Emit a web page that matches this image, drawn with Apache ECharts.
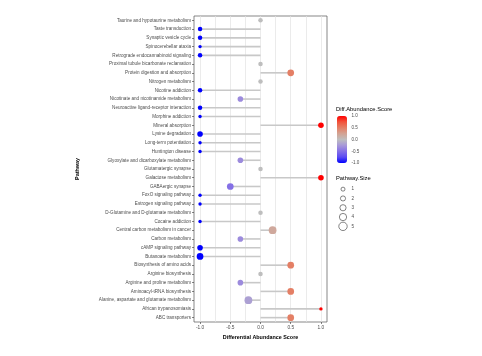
<!DOCTYPE html>
<html>
<head>
<meta charset="utf-8">
<script src="https://cdn.jsdelivr.net/npm/echarts@6/dist/echarts.min.js"></script>
<style>html,body{margin:0;padding:0;background:#fff;}#c{width:482px;height:356px;}</style>
</head>
<body>
<div id="c"></div>
<script>
const categories = [
  "Taurine and hypotaurine metabolism",
  "Taste transduction",
  "Synaptic vesicle cycle",
  "Spinocerebellar ataxia",
  "Retrograde endocannabinoid signaling",
  "Proximal tubule bicarbonate reclamation",
  "Protein digestion and absorption",
  "Nitrogen metabolism",
  "Nicotine addiction",
  "Nicotinate and nicotinamide metabolism",
  "Neuroactive ligand-receptor interaction",
  "Morphine addiction",
  "Mineral absorption",
  "Lysine degradation",
  "Long-term potentiation",
  "Huntington disease",
  "Glyoxylate and dicarboxylate metabolism",
  "Glutamatergic synapse",
  "Galactose metabolism",
  "GABAergic synapse",
  "FoxO signaling pathway",
  "Estrogen signaling pathway",
  "D-Glutamine and D-glutamate metabolism",
  "Cocaine addiction",
  "Central carbon metabolism in cancer",
  "Carbon metabolism",
  "cAMP signaling pathway",
  "Butanoate metabolism",
  "Biosynthesis of amino acids",
  "Arginine biosynthesis",
  "Arginine and proline metabolism",
  "Aminoacyl-tRNA biosynthesis",
  "Alanine, aspartate and glutamate metabolism",
  "African trypanosomiasis",
  "ABC transporters"
];
const scores = [0, -1, -1, -1, -1, 0, 0.5, 0, -1, -0.333, -1, -1, 1, -1, -1, -1, -0.333, 0, 1, -0.5,
  -1, -1, 0, -1, 0.2, -0.333, -1, -1, 0.5, 0, -0.333, 0.5, -0.2, 1, 0.5];
const sizes = [2, 2, 2, 1, 2, 2, 4, 2, 2, 3, 2, 1, 3, 3, 1, 1, 3, 2, 3, 4,
  1, 1, 2, 1, 5, 3, 3, 4, 4, 2, 3, 4, 5, 1, 4];
const xTicks = [-1, -0.5, 0, 0.5, 1];
const gridTicks = [-1, -0.75, -0.5, -0.25, 0, 0.25, 0.5, 0.75, 1];
const sizeLevels = ["1", "2", "3", "4", "5"];
const colorStops = ["#0000FF", "#5B4BF2", "#8570E6", "#A798D8", "#BEBEBE", "#D3A393", "#E47F65", "#F2523A", "#FF0000"];

function symSize(s) { return 2.3 + 1.1 * s; }

const chart = echarts.init(document.getElementById('c'), null, {renderer: 'canvas'});
const labelColor = '#4D4D4D';
const font = 'Liberation Sans, Arial, sans-serif';

chart.setOption({
  backgroundColor: '#fff',
  animation: false,
  textStyle: {fontFamily: font},
  title: [
    {text: 'Diff.Abundance.Score', left: 336, top: 106, padding: 0,
     textStyle: {fontSize: 5.8, fontWeight: 'normal', color: '#000', fontFamily: font}},
    {text: 'Pathway.Size', left: 336, top: 175, padding: 0,
     textStyle: {fontSize: 5.8, fontWeight: 'normal', color: '#000', fontFamily: font}}
  ],
  grid: [
    {left: 194, right: 155, top: 16, bottom: 34, show: true, borderColor: '#555', borderWidth: 0.7, backgroundColor: '#fff'},
    {left: 345, width: 2, top: 116, height: 47},
    {left: 339, width: 8, top: 184.5, height: 46.5}
  ],
  xAxis: [
    {type: 'value', gridIndex: 0, min: -1.1, max: 1.1,
     axisLine: {show: false, onZero: false}, splitLine: {show: false},
     axisTick: {show: true, customValues: xTicks, length: 2, lineStyle: {color: '#333', width: 0.6}},
     axisLabel: {customValues: xTicks, formatter: v => v.toFixed(1), fontSize: 4.8, color: labelColor, margin: 3, fontFamily: font},
     name: 'Differential Abundance Score', nameLocation: 'middle', nameGap: 11,
     nameTextStyle: {fontWeight: 'bold', fontSize: 5.4, color: '#000', fontFamily: font}},
    {type: 'value', gridIndex: 1, show: false, min: 0, max: 1},
    {type: 'value', gridIndex: 2, show: false, min: -1, max: 1}
  ],
  yAxis: [
    {type: 'category', gridIndex: 0, data: categories, inverse: true,
     axisLine: {show: false, onZero: false},
     axisTick: {show: true, alignWithLabel: true, length: 2, lineStyle: {color: '#333', width: 0.6}},
     axisLabel: {fontSize: 4.6, color: labelColor, margin: 3, fontFamily: font},
     name: 'Pathway', nameLocation: 'middle', nameGap: 114, nameRotate: 90,
     nameTextStyle: {fontWeight: 'bold', fontSize: 5.4, color: '#000', fontFamily: font}},
    {type: 'value', gridIndex: 1, min: -1, max: 1, interval: 0.5, position: 'right',
     axisLine: {show: false, onZero: false}, axisTick: {show: false}, splitLine: {show: false},
     axisLabel: {formatter: v => v.toFixed(1), fontSize: 4.6, color: labelColor, margin: 4.5, fontFamily: font}},
    {type: 'category', gridIndex: 2, data: sizeLevels, inverse: true, position: 'right',
     axisLine: {show: false, onZero: false}, axisTick: {show: false}, splitLine: {show: false},
     axisLabel: {fontSize: 4.6, color: labelColor, margin: 4.5, fontFamily: font}}
  ],
  visualMap: {
    type: 'continuous', min: -1, max: 1, dimension: 0, seriesIndex: 2,
    left: 337, top: 116, itemWidth: 10, itemHeight: 47, padding: 0,
    calculable: false, showLabel: false, text: null,
    inRange: {color: colorStops}
  },
  series: [
    {type: 'scatter', xAxisIndex: 0, yAxisIndex: 0, data: [], z: 1, silent: true,
     markLine: {silent: true, z: 1, symbol: 'none', label: {show: false},
       lineStyle: {color: '#E2E2E2', width: 0.7, type: 'solid'},
       data: gridTicks.map(v => ({xAxis: v}))}},
    {type: 'custom', xAxisIndex: 0, yAxisIndex: 0, z: 2, silent: true,
     data: scores.map((v, i) => [v, i]),
     renderItem: function (params, api) {
       const p0 = api.coord([0, api.value(1)]);
       const p1 = api.coord([api.value(0), api.value(1)]);
       return {type: 'line', shape: {x1: p0[0], y1: p0[1], x2: p1[0], y2: p1[1]},
               style: {stroke: '#C8C8C8', lineWidth: 1.6}};
     }},
    {type: 'scatter', xAxisIndex: 0, yAxisIndex: 0, z: 3,
     data: scores.map((v, i) => [v, i, sizes[i]]),
     symbolSize: d => symSize(d[2]),
     itemStyle: {opacity: 1}},
    {type: 'scatter', xAxisIndex: 2, yAxisIndex: 2, z: 3,
     data: sizeLevels.map((s, i) => [0, i, +s]),
     symbolSize: d => symSize(d[2]) + 0.6,
     itemStyle: {color: '#fff', borderColor: '#333', borderWidth: 0.6, opacity: 1}}
  ]
});
</script>
</body>
</html>
